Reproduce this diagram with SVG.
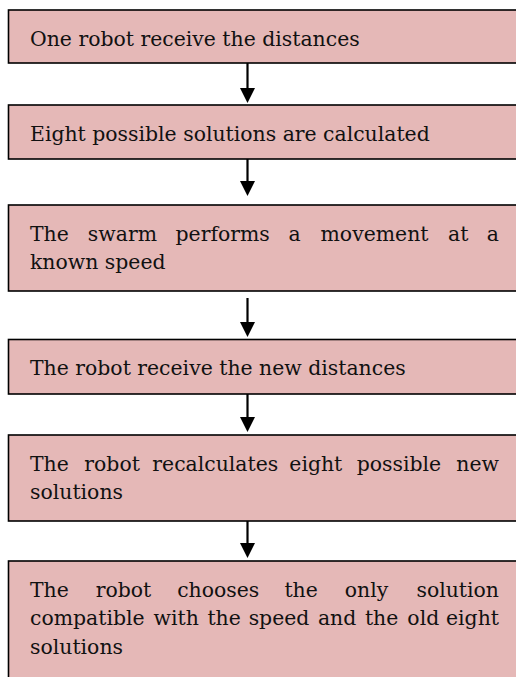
<svg xmlns="http://www.w3.org/2000/svg" width="516" height="677" viewBox="0 0 516 677">
<style>
.box{fill:#E5B8B7;stroke:#000;stroke-width:1.6}
.t{font-family:"DejaVu Serif","Liberation Serif",serif;font-size:20.4px;fill:#111}
.m{text-anchor:middle}
.e{text-anchor:end}
.ln{stroke:#000;stroke-width:2.2;fill:none}
.hd{fill:#000}
</style>
<rect x="0" y="0" width="516" height="677" fill="#fff"/>
<g id="n1">
<rect class="box" x="8.5" y="10" width="530" height="53"/>
<text class="t" x="30" y="45.5">One robot receive the distances</text>
</g>
<g id="n2">
<rect class="box" x="8.5" y="105" width="530" height="54"/>
<text class="t" x="30" y="140.5">Eight possible solutions are calculated</text>
</g>
<g id="n3">
<rect class="box" x="8.5" y="205" width="530" height="86"/>
<text class="t" y="240.5"><tspan x="30">The</tspan><tspan class="m" x="122.4">swarm</tspan><tspan class="m" x="222.7">performs</tspan><tspan class="m" x="294.5">a</tspan><tspan class="m" x="374.5">movement</tspan><tspan class="m" x="458.3">at</tspan><tspan class="e" x="499">a</tspan></text>
<text class="t" x="30" y="268.5">known speed</text>
</g>
<g id="n4">
<rect class="box" x="8.5" y="339.5" width="530" height="54.5"/>
<text class="t" x="30" y="374.5">The robot receive the new distances</text>
</g>
<g id="n5">
<rect class="box" x="8.5" y="435" width="530" height="86"/>
<text class="t" y="470.5"><tspan x="30">The</tspan><tspan class="m" x="112.1">robot</tspan><tspan class="m" x="215.3">recalculates</tspan><tspan class="m" x="315.8">eight</tspan><tspan class="m" x="398.9">possible</tspan><tspan class="e" x="499">new</tspan></text>
<text class="t" x="30" y="498.5">solutions</text>
</g>
<g id="n6">
<rect class="box" x="8.5" y="561" width="530" height="140"/>
<text class="t" y="596.5"><tspan x="30">The</tspan><tspan class="m" x="123.5">robot</tspan><tspan class="m" x="218.2">chooses</tspan><tspan class="m" x="301.1">the</tspan><tspan class="m" x="366.5">only</tspan><tspan class="e" x="499">solution</tspan></text>
<text class="t" y="625"><tspan x="30">compatible</tspan><tspan class="m" x="176.2">with</tspan><tspan class="m" x="224.1">the</tspan><tspan class="m" x="279">speed</tspan><tspan class="m" x="337.1">and</tspan><tspan class="m" x="381.6">the</tspan><tspan class="m" x="423.3">old</tspan><tspan class="e" x="499">eight</tspan></text>
<text class="t" x="30" y="653.5">solutions</text>
</g>
<g id="connectors">
<line class="ln" x1="247.5" y1="63" x2="247.5" y2="89"/>
<polygon class="hd" points="240,88 255,88 247.5,103"/>
<line class="ln" x1="247.5" y1="159" x2="247.5" y2="182"/>
<polygon class="hd" points="240,181 255,181 247.5,196"/>
<line class="ln" x1="247.5" y1="298" x2="247.5" y2="323"/>
<polygon class="hd" points="240,322 255,322 247.5,337"/>
<line class="ln" x1="247.5" y1="394" x2="247.5" y2="418"/>
<polygon class="hd" points="240,417 255,417 247.5,432"/>
<line class="ln" x1="247.5" y1="521" x2="247.5" y2="544"/>
<polygon class="hd" points="240,543 255,543 247.5,558"/>
</g>
</svg>
